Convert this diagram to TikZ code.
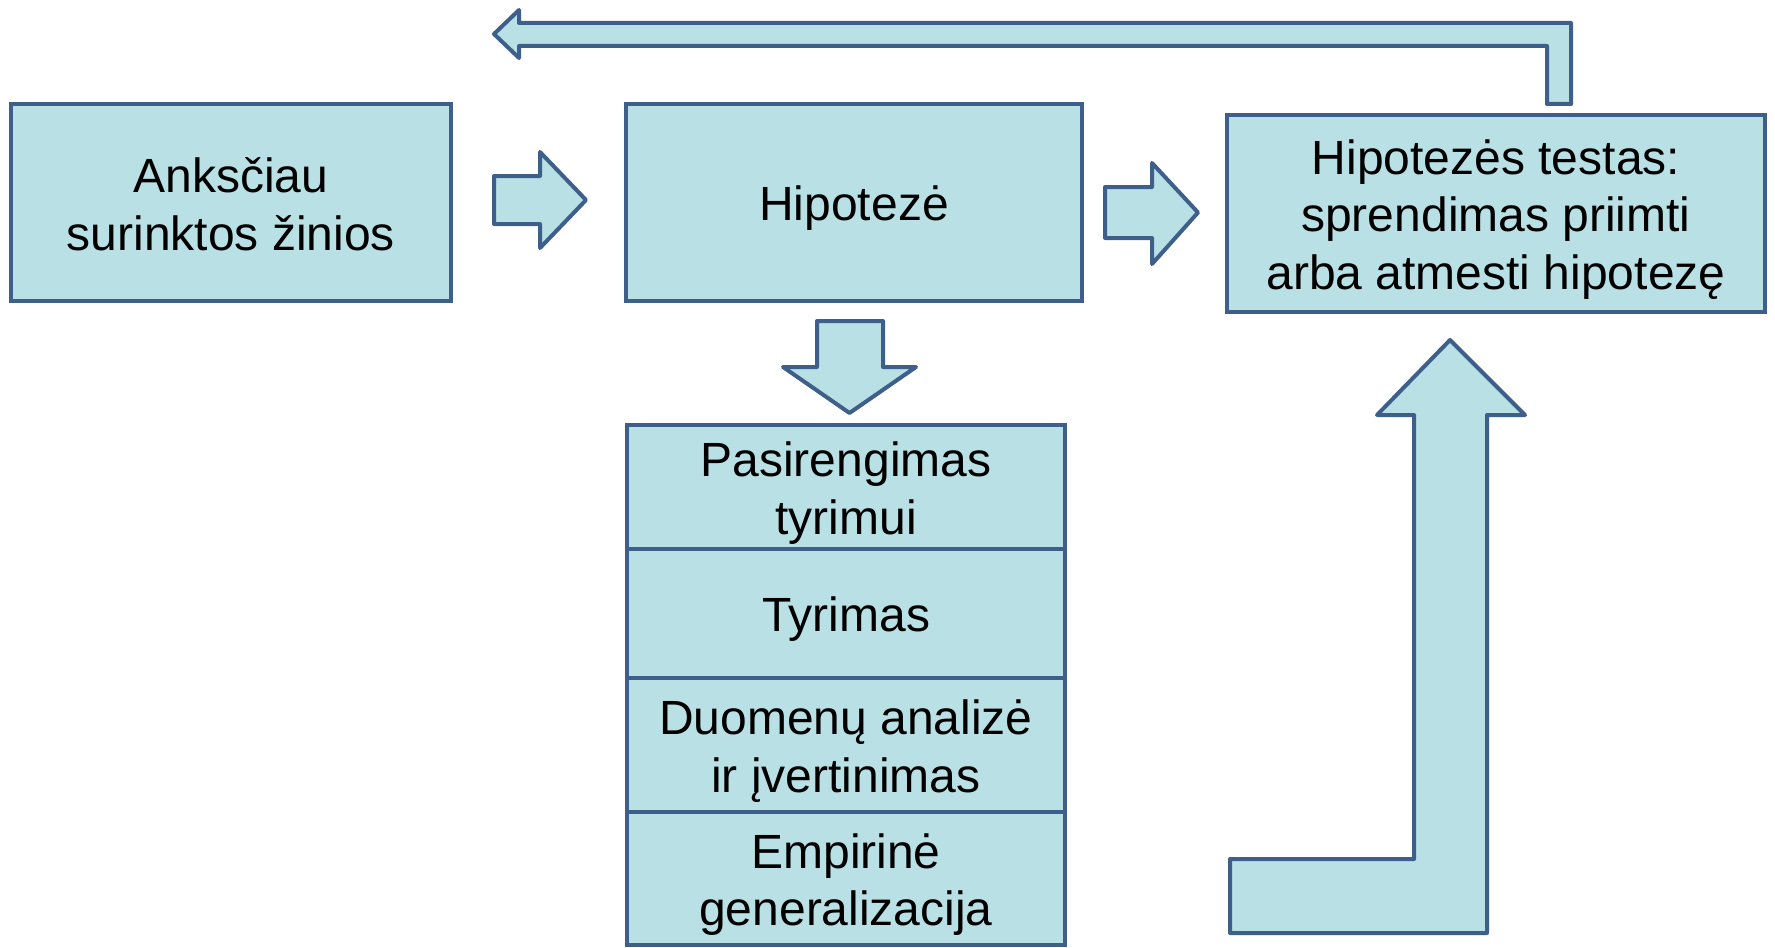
\documentclass[tikz,border=0pt]{standalone}
\usepackage{fontspec}
\setmainfont{Liberation Sans}
\definecolor{boxfill}{RGB}{185,224,228}
\definecolor{boxline}{RGB}{62,95,138}
\begin{document}
\begin{tikzpicture}[x=0.5pt,y=-0.5pt,
  box/.style={draw=boxline, fill=boxfill, line width=2pt, inner sep=0pt, outer sep=0pt},
  txt/.style={inner sep=0pt, align=center, font=\fontsize{24pt}{28.8pt}\selectfont},
  blockarrow/.style={draw=boxline, fill=boxfill, line width=2pt, line join=round}]
\useasboundingbox (0,0) rectangle (1775,947);
% main boxes
\node[box, minimum width=220pt, minimum height=98.5pt] (know) at (231,202.5) {};
\node[txt] (knowt) at ([yshift=-1pt]know.center) {Anksčiau\\surinktos žinios};
\node[box, minimum width=228pt, minimum height=98.5pt] (hyp) at (854,202.5) {};
\node[txt] (hypt) at ([yshift=-3pt]hyp.center) {Hipotezė};
\node[box, minimum width=269pt, minimum height=98.5pt] (test) at (1496,213.5) {};
\node[txt] (testt) at ([yshift=-3pt]test.center) {Hipotezės testas:\\sprendimas priimti\\arba atmesti hipotezę};
% stack
\node[box, minimum width=219pt, minimum height=62pt] (prep) at (846,487) {};
\node[txt] (prept) at ([yshift=-3pt]prep.center) {Pasirengimas\\tyrimui};
\node[box, minimum width=219pt, minimum height=64.5pt] (res) at (846,613.5) {};
\node[txt] (rest) at ([yshift=-3pt]res.center) {Tyrimas};
\node[box, minimum width=219pt, minimum height=67pt] (anal) at (846,745) {};
\node[txt] (analt) at ([yshift=-3pt]anal.center) {Duomenų analizė\\ir įvertinimas};
\node[box, minimum width=219pt, minimum height=66.5pt] (gen) at (846,878.5) {};
\node[txt] (gent) at ([yshift=-3pt]gen.center) {Empirinė\\generalizacija};
% block arrows
\draw[blockarrow] (494,176) -- (540,176) -- (540,152) -- (586,200) -- (540,248) -- (540,224) -- (494,224) -- cycle;
\draw[blockarrow] (1105,187) -- (1152,187) -- (1152,163) -- (1198,212.5) -- (1152,264) -- (1152,238) -- (1105,238) -- cycle;
\draw[blockarrow] (817,321) -- (883,321) -- (883,367) -- (916,367) -- (849.5,413) -- (783,367) -- (817,367) -- cycle;
\draw[blockarrow] (1230,859) -- (1414,859) -- (1414,415) -- (1377,415) -- (1450,340) -- (1525,415) -- (1487,415) -- (1487,933) -- (1230,933) -- cycle;
\draw[blockarrow] (1547,104) -- (1571,104) -- (1571,23) -- (519,23) -- (519,10) -- (494,34) -- (519,58) -- (519,46) -- (1547,46) -- cycle;
\end{tikzpicture}
\end{document}
